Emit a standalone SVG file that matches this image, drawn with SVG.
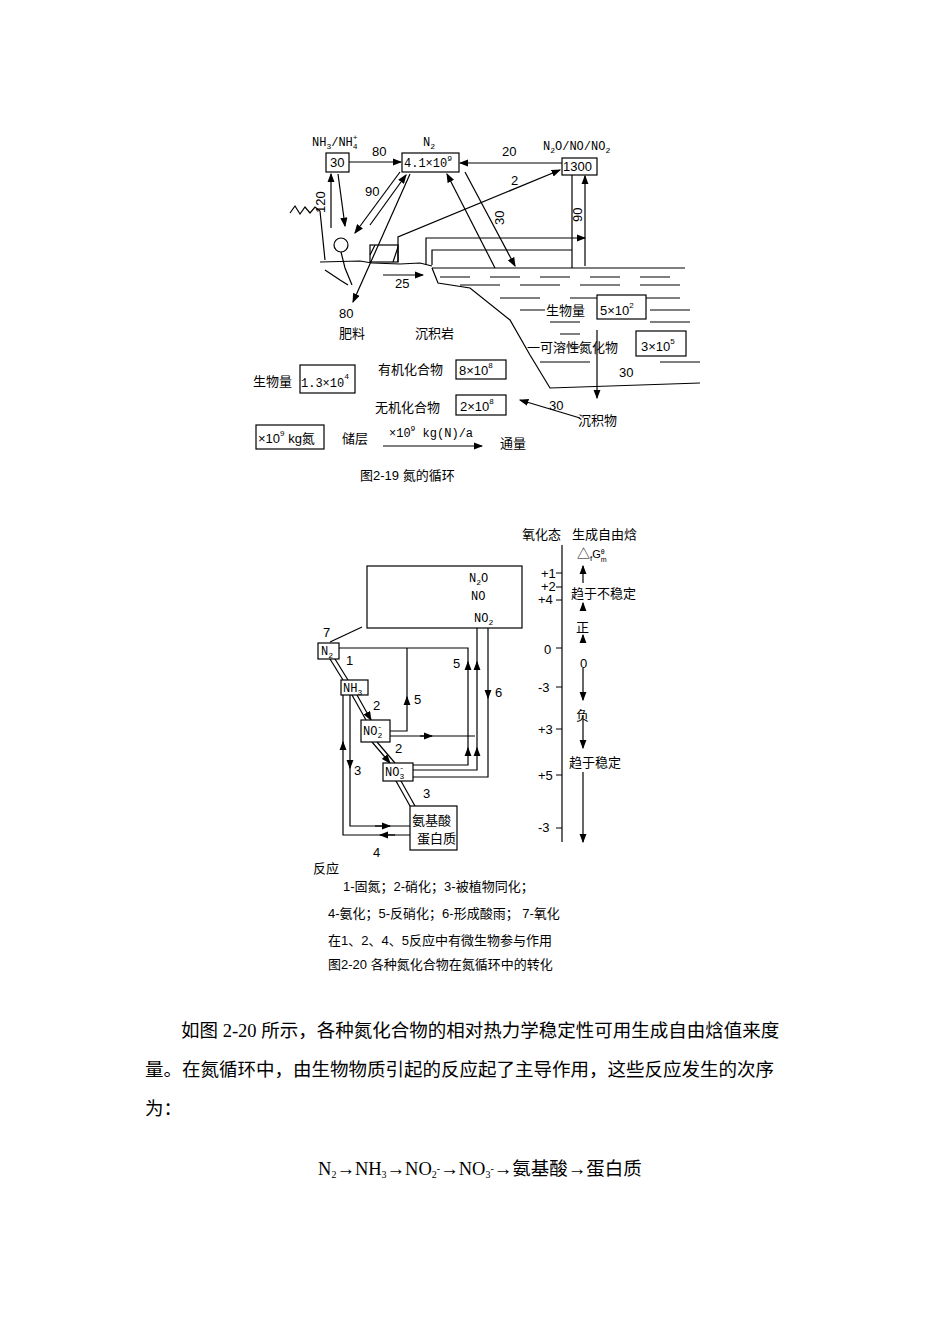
<svg xmlns="http://www.w3.org/2000/svg" width="950" height="1344" viewBox="0 0 950 1344">
<defs>
<style>
text{font-family:"Liberation Sans","Noto Sans CJK SC",sans-serif;font-size:13px;fill:#000}
.m{font-family:"Liberation Mono","Noto Sans CJK SC",monospace;font-size:12px}
.s{font-family:"Liberation Serif","Noto Sans CJK SC",serif;font-size:18.5px}
.ln{stroke:#000;stroke-width:1.2;fill:none}
.bx{stroke:#000;stroke-width:1.2;fill:#fff}
</style>
<marker id="a" markerWidth="8" markerHeight="6" refX="7" refY="3" orient="auto"><path d="M0,0L8,3L0,6z"/></marker>
</defs>
<rect width="950" height="1344" fill="#fff"/>
<g id="connectors">
<path class="ln" d="M349,162H401" marker-end="url(#a)"/>
<path class="ln" d="M562,163H460" marker-end="url(#a)"/>
<path class="ln" d="M398,262V237L560,170" marker-end="url(#a)"/>
<path class="ln" d="M495,268L447,174" marker-end="url(#a)"/>
<path class="ln" d="M465,172L515,266" marker-end="url(#a)"/>
<path class="ln" d="M400,172L355,233" marker-end="url(#a)"/>
<path class="ln" d="M370,225L406,175" marker-end="url(#a)"/>
<path class="ln" d="M410,174L353,302" marker-end="url(#a)"/>
<path class="ln" d="M331,228V174" marker-end="url(#a)"/>
<path class="ln" d="M338,174L345,226" marker-end="url(#a)"/>
<path class="ln" d="M572,175V268"/>
<path class="ln" d="M585,266V176" marker-end="url(#a)"/>
<path class="ln" d="M426,265V238H585" marker-end="url(#a)"/>
<path class="ln" d="M432,265V250H572"/>
<path class="ln" d="M383,275H423" marker-end="url(#a)"/>
<path class="ln" d="M597,330V398" marker-end="url(#a)"/>
<path class="ln" d="M580,418L520,400" marker-end="url(#a)"/>
<path class="ln" d="M383,446H482" marker-end="url(#a)"/>
<path class="ln" d="M320,262L360,261L372,263L400,264L420,263L432,266M432,268H685"/>
<path class="ln" d="M432,268L438,283L470,288L510,320L530,355L550,388L700,383" stroke-width="1"/>
<path class="ln" d="M440,277H470M490,277H520M540,277H570M590,277H620M640,277H670M460,285H500M520,285H560M580,285H620M640,285H680M500,298H540M570,298H610M640,298H680M520,310H545M650,310H690M550,322H580M650,322H690M560,334H580M570,347H580M540,362H590M660,362H700" stroke="#000" stroke-width="1"/>
<path class="ln" d="M290,213L295,206L300,214L305,207L310,213L315,207L320,211M320,211L325,260" stroke-width="1"/>
<circle cx="341" cy="245" r="7" class="ln"/>
<path class="ln" d="M341,252L345,268L352,285M325,270L340,280L348,285" stroke-width="1"/>
<rect x="370" y="245" width="28" height="17" class="ln"/>
<path class="ln" d="M375,245L370,255M398,247L393,262" stroke-width="1"/>
<path class="ln" d="M330,642L362,627"/>
<path class="ln" d="M339,648H468V765H413"/>
<path class="ln" d="M477,628V770H413"/>
<path class="ln" d="M488,628V777H413"/>
<path class="ln" d="M488,690V698" marker-end="url(#a)"/>
<path class="ln" d="M468,670V662" marker-end="url(#a)"/>
<path class="ln" d="M477,670V662" marker-end="url(#a)"/>
<path class="ln" d="M468,755V748" marker-end="url(#a)"/>
<path class="ln" d="M477,755V748" marker-end="url(#a)"/>
<path class="ln" d="M407,648V731H390"/>
<path class="ln" d="M407,705V697" marker-end="url(#a)"/>
<path class="ln" d="M390,736H475"/>
<path class="ln" d="M420,736H432" marker-end="url(#a)"/>
<path class="ln" d="M330,659L343,680" marker-start="url(#a)"/>
<path class="ln" d="M335,659L348,680"/>
<path class="ln" d="M352,695L366,720" marker-start="url(#a)"/>
<path class="ln" d="M357,695L371,720" marker-end="url(#a)"/>
<path class="ln" d="M372,742L390,763" marker-end="url(#a)"/>
<path class="ln" d="M377,742L395,763"/>
<path class="ln" d="M396,781L410,806" marker-start="url(#a)"/>
<path class="ln" d="M401,781L415,806" marker-start="url(#a)"/>
<path class="ln" d="M343,695V835H410"/>
<path class="ln" d="M350,695V826H410"/>
<path class="ln" d="M343,750V742" marker-end="url(#a)"/>
<path class="ln" d="M350,760V768" marker-end="url(#a)"/>
<path class="ln" d="M375,826H390" marker-end="url(#a)"/>
<path class="ln" d="M395,835H380" marker-end="url(#a)"/>
<path class="ln" d="M562,545V842"/>
<path class="ln" d="M556,573H562M556,587H562M556,600H562M556,648H562M556,687H562M556,729H562M556,775H562M556,828H562"/>
<path class="ln" d="M583,583V566" marker-end="url(#a)"/>
<path class="ln" d="M583,610V603" marker-end="url(#a)"/>
<path class="ln" d="M583,643V635" marker-end="url(#a)"/>
<path class="ln" d="M583,668V700" marker-end="url(#a)"/>
<path class="ln" d="M583,715V748" marker-end="url(#a)"/>
<path class="ln" d="M583,772V842" marker-end="url(#a)"/>
</g>
<g id="n-nh3"><text x="312" y="146" class="m">NH<tspan font-size="8" dy="3">3</tspan><tspan dy="-3">/NH</tspan><tspan font-size="8" dy="3">4</tspan><tspan font-size="8" dx="-5" dy="-9">+</tspan></text><rect x="326" y="153" width="23" height="19" class="bx"/><text x="330" y="167">30</text></g>
<g id="n-n2"><text x="423" y="146" class="m">N<tspan font-size="8" dy="3">2</tspan></text><rect x="402" y="153" width="57" height="19" class="bx"/><text x="404" y="167" class="m">4.1×10<tspan font-size="8" dy="-6">9</tspan></text></g>
<g id="n-nox"><text x="543" y="150" class="m">N<tspan font-size="8" dy="3">2</tspan><tspan dy="-3">O/NO/NO</tspan><tspan font-size="8" dy="3">2</tspan></text><rect x="562" y="158" width="35" height="17" class="bx"/><text x="563" y="171">1300</text></g>
<g id="labels19">
<text x="372" y="156">80</text><text x="502" y="156">20</text><text x="511" y="185">2</text>
<text x="365" y="196">90</text>
<text transform="translate(325,213) rotate(-90)">120</text>
<text transform="translate(504,225) rotate(-90)">30</text>
<text transform="translate(582,222) rotate(-90)">90</text>
<text x="395" y="288">25</text>
<text x="339" y="318">80</text>
<text x="339" y="338">肥料</text><text x="415" y="338">沉积岩</text>
<text x="546" y="315">生物量</text><rect x="597" y="295" width="49" height="24" class="bx"/><text x="600" y="315">5×10<tspan font-size="8" dy="-7">2</tspan></text>
<text x="527" y="352">一可溶性氮化物</text><rect x="636" y="331" width="50" height="25" class="bx"/><text x="641" y="351">3×10<tspan font-size="8" dy="-7">5</tspan></text>
<text x="619" y="377">30</text>
<text x="378" y="374">有机化合物</text><rect x="456" y="360" width="50" height="19" class="bx"/><text x="459" y="375">8×10<tspan font-size="8" dy="-7">8</tspan></text>
<text x="253" y="386">生物量</text><rect x="300" y="365" width="55" height="28" class="bx"/><text x="301" y="387" class="m">1.3×10<tspan font-size="8" dy="-8">4</tspan></text>
<text x="375" y="412">无机化合物</text><rect x="456" y="395" width="50" height="20" class="bx"/><text x="460" y="411">2×10<tspan font-size="8" dy="-7">8</tspan></text>
<text x="549" y="410">30</text>
<text x="578" y="425">沉积物</text>
<rect x="256" y="425" width="68" height="24" class="bx"/><text x="258" y="443">×10<tspan font-size="8" dy="-7">9</tspan><tspan dy="7"> kg氮</tspan></text>
<text x="342" y="443">储层</text>
<text x="389" y="437" class="m">×10<tspan font-size="8" dy="-6">9</tspan><tspan dy="6"> kg(N)/a</tspan></text>
<text x="500" y="448">通量</text>
<text x="360" y="480" font-size="12">图2-19 氮的循环</text>
</g>
<g id="big-box"><rect x="367" y="566" width="155" height="62" class="bx"/><text x="469" y="582" class="m">N<tspan font-size="8" dy="3">2</tspan><tspan dy="-3">O</tspan></text><text x="471" y="600" class="m">NO</text><text x="474" y="622" class="m">NO<tspan font-size="8" dy="3">2</tspan></text></g>
<g id="b-n2"><rect x="318" y="643" width="21" height="16" class="bx"/><text x="321" y="655" class="m">N<tspan font-size="8" dy="3">2</tspan></text></g>
<g id="b-nh3"><rect x="341" y="680" width="27" height="15" class="bx"/><text x="343" y="692" class="m">NH<tspan font-size="8" dy="3">3</tspan></text></g>
<g id="b-no2"><rect x="361" y="720" width="29" height="22" class="bx"/><text x="363" y="735" class="m">NO<tspan font-size="8" dy="3">2</tspan><tspan font-size="8" dx="-5" dy="-9">-</tspan></text></g>
<g id="b-no3"><rect x="383" y="763" width="30" height="18" class="bx"/><text x="385" y="776" class="m">NO<tspan font-size="8" dy="3">3</tspan><tspan font-size="8" dx="-5" dy="-9">-</tspan></text></g>
<g id="b-aa"><rect x="410" y="806" width="47" height="44" class="bx"/><text x="412" y="825">氨基酸</text><text x="417" y="843">蛋白质</text></g>
<g id="labels20">
<text x="323" y="637">7</text><text x="346" y="665">1</text><text x="373" y="710">2</text><text x="395" y="753">2</text><text x="423" y="798">3</text>
<text x="414" y="704">5</text><text x="453" y="668">5</text><text x="495" y="697">6</text><text x="354" y="775">3</text><text x="373" y="857">4</text>
<text x="522" y="539">氧化态</text><text x="572" y="539">生成自由焓</text>
<text x="577" y="558">△<tspan font-size="8" dy="3">f</tspan><tspan font-size="11" dy="-3">G</tspan><tspan font-size="7" dy="4">m</tspan><tspan font-size="7" dx="-6" dy="-8">θ</tspan></text>
<text x="541" y="578" font-size="12">+1</text><text x="541" y="591" font-size="12">+2</text><text x="538" y="604" font-size="12">+4</text>
<text x="571" y="598">趋于不稳定</text><text x="576" y="632">正</text>
<text x="544" y="654" font-size="12">0</text><text x="580" y="668" font-size="12">0</text><text x="538" y="692" font-size="12">-3</text>
<text x="576" y="720">负</text><text x="538" y="734" font-size="12">+3</text><text x="569" y="767">趋于稳定</text>
<text x="538" y="780" font-size="12">+5</text><text x="538" y="832" font-size="12">-3</text>
<text x="313" y="873">反应</text>
<text x="343" y="891" font-size="12">1-固氮；2-硝化；3-被植物同化；</text>
<text x="328" y="918" font-size="12">4-氨化；5-反硝化；6-形成酸雨；  7-氧化</text>
<text x="328" y="945" font-size="12">在1、2、4、5反应中有微生物参与作用</text>
<text x="328" y="969" font-size="12">图2-20 各种氮化合物在氮循环中的转化</text>
</g>
<g id="para">
<text x="181" y="1037" class="s">如图 2-20 所示，各种氮化合物的相对热力学稳定性可用生成自由焓值来度</text>
<text x="145" y="1076" class="s">量。在氮循环中，由生物物质引起的反应起了主导作用，这些反应发生的次序</text>
<text x="145" y="1115" class="s">为：</text>
<text x="318" y="1175" class="s" font-size="15">N<tspan font-size="10" dy="3">2</tspan><tspan dy="-3">→NH</tspan><tspan font-size="10" dy="3">3</tspan><tspan dy="-3">→NO</tspan><tspan font-size="10" dy="3">2</tspan><tspan font-size="10" dy="-6">-</tspan><tspan dy="3">→NO</tspan><tspan font-size="10" dy="3">3</tspan><tspan font-size="10" dy="-6">-</tspan><tspan dy="3">→氨基酸→蛋白质</tspan></text>
</g>
</svg>
